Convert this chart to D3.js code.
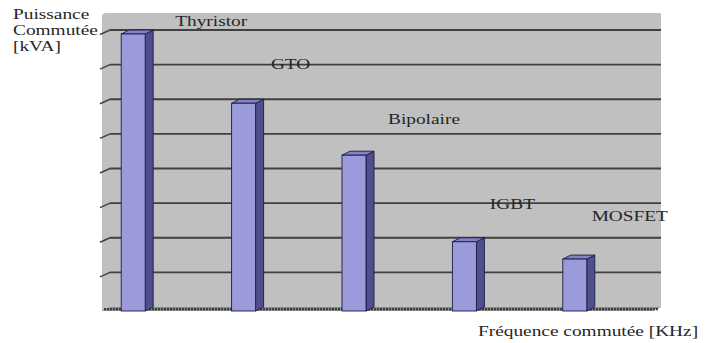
<!DOCTYPE html>
<html>
<head>
<meta charset="utf-8">
<script src="https://cdn.jsdelivr.net/npm/d3@7"></script>
<style>
  html, body { margin: 0; padding: 0; background: #ffffff; }
  svg { display: block; }
</style>
</head>
<body>
<script>
// Switching power vs. frequency of power semiconductor families
const categories = ["Thyristor", "GTO", "Bipolaire", "IGBT", "MOSFET"];
const puissance = [8, 6, 4.5, 2, 1.5];
const gridValues = [1, 2, 3, 4, 5, 6, 7, 8];
const yTitle = ["Puissance", "Commutée", "[kVA]"];
const xTitle = "Fréquence commutée [KHz]";

// label placement relative to the top of each column (px)
const labelOffsets = [[78, -8], [47, -34], [70, -31], [48, -33], [55, -38]];

const W = 706, H = 343;
const depth = { dx: 8, dy: -4 };          // oblique 3-D offset
const wall = { left: 102, right: 661, top: 13, floorFront: 311 };
const stretch = 1.29;                      // horizontal text stretch
const serif = "'Liberation Serif', 'Times New Roman', 'DejaVu Serif', serif";

const svg = d3.select("body").append("svg").attr("width", W).attr("height", H);

const x = d3.scaleBand().domain(categories).range([78, 630]).padding(0);
const barW = 24;
// front plane of the columns and back wall plane
const yFront = d3.scaleLinear().domain([0, 8]).range([wall.floorFront, 34]);
const yBack = v => yFront(v) + depth.dy;

// walls
const backLeft = wall.left + depth.dx;
svg.append("path")
  .attr("d", `M${wall.left},${wall.floorFront} L${wall.left},${wall.top + 4}
              Q${wall.left},${wall.top} ${wall.left + 4},${wall.top}
              L${wall.right},${wall.top} L${wall.right},${wall.floorFront + depth.dy} Z`)
  .attr("fill", "#c0c0c0");

// gridlines on back wall + diagonal on side wall
const grid = svg.append("g");
gridValues.forEach(v => {
  const yb = yBack(v);
  grid.append("line")
    .attr("x1", backLeft).attr("x2", wall.right)
    .attr("y1", yb).attr("y2", yb)
    .attr("stroke", "#433f3f").attr("stroke-width", 1.8);
  grid.append("line")
    .attr("x1", wall.left - 2).attr("y1", yb - depth.dy + 0.5)
    .attr("x2", backLeft).attr("y2", yb)
    .attr("stroke", "#433f3f").attr("stroke-width", 1.4);
});

// floor
const ff = wall.floorFront, fb = wall.floorFront + depth.dy;
svg.append("path")
  .attr("d", `M${wall.left},${ff} L${wall.right - depth.dx},${ff} L${wall.right},${fb} L${backLeft},${fb} Z`)
  .attr("fill", "#8c8c8c");
svg.append("line")
  .attr("x1", wall.left + 2).attr("x2", wall.right - 2)
  .attr("y1", ff - 1.8).attr("y2", ff - 1.8)
  .attr("stroke", "#3e3e3e").attr("stroke-width", 2.2)
  .attr("stroke-dasharray", "2,1");

// columns
const bars = svg.append("g").selectAll("g").data(categories).join("g");
bars.each(function (c, i) {
  const g = d3.select(this);
  const cx = x(c) + x.bandwidth() / 2;
  const x0 = cx - barW / 2, x1 = cx + barW / 2;
  const yt = yFront(puissance[i]);
  const yb = yFront(0);
  const stroke = "#1c1c44";
  g.append("path")
    .attr("d", `M${x1},${yt} L${x1 + depth.dx},${yt + depth.dy} L${x1 + depth.dx},${yb + depth.dy} L${x1},${yb} Z`)
    .attr("fill", "#4f4f8d").attr("stroke", stroke).attr("stroke-width", 0.9);
  g.append("path")
    .attr("d", `M${x0},${yt} L${x0 + depth.dx},${yt + depth.dy} L${x1 + depth.dx},${yt + depth.dy} L${x1},${yt} Z`)
    .attr("fill", "#8282c6").attr("stroke", stroke).attr("stroke-width", 0.9);
  g.append("rect")
    .attr("x", x0).attr("y", yt).attr("width", barW).attr("height", yb - yt)
    .attr("fill", "#9b9bdc").attr("stroke", stroke).attr("stroke-width", 0.9);
});

// column labels
const stretchedText = (sel, tx, ty, anchor, str) =>
  sel.append("text")
    .attr("transform", `translate(${tx},${ty}) scale(${stretch},1)`)
    .attr("text-anchor", anchor)
    .attr("font-family", serif)
    .attr("font-size", 15)
    .attr("fill", "#262626")
    .text(str);

categories.forEach((c, i) => {
  const cx = x(c) + x.bandwidth() / 2;
  const [dx, dy] = labelOffsets[i];
  stretchedText(svg, cx + dx, yFront(puissance[i]) + dy, "middle", c);
});

// axis titles
yTitle.forEach((t, i) => stretchedText(svg, 13, 19 + i * 16, "start", t));
stretchedText(svg, 478, 336, "start", xTitle);
</script>
</body>
</html>
